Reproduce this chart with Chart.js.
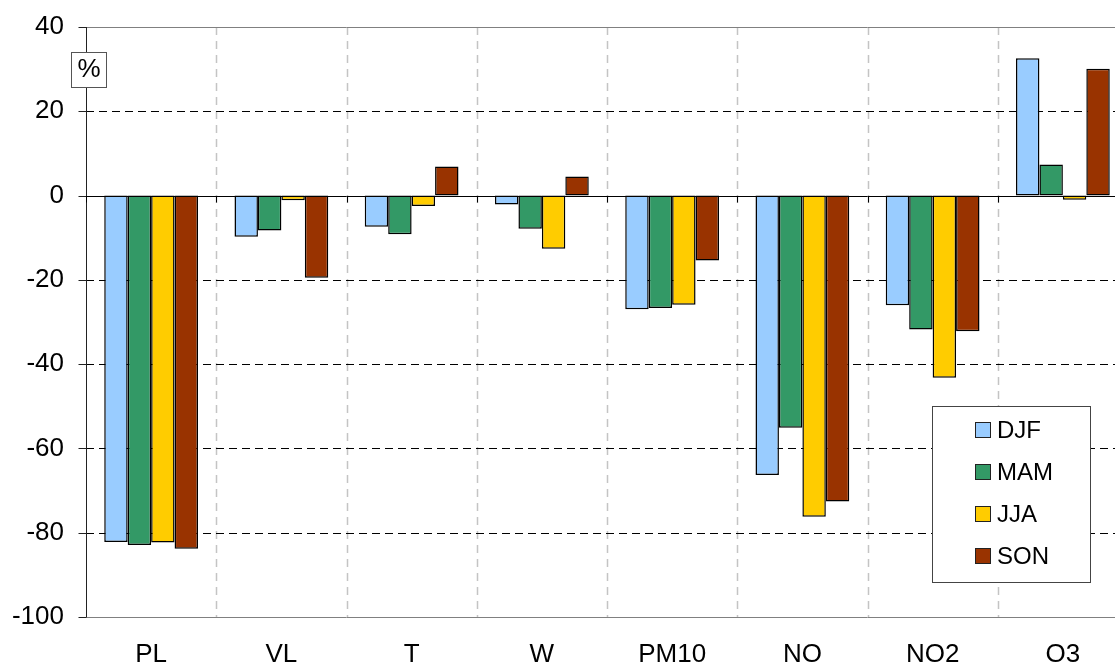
<!DOCTYPE html>
<html>
<head>
<meta charset="utf-8">
<script src="https://cdn.jsdelivr.net/npm/chart.js@4/dist/chart.umd.min.js"></script>
<style>
  html, body { margin: 0; padding: 0; background: #fff; overflow: hidden; }
  #wrap { position: relative; width: 1130px; height: 666px; }
</style>
</head>
<body>
<div id="wrap"><canvas id="c"></canvas></div>
<script>
// Seasonal change (%) per variable
const categories = ['PL', 'VL', 'T', 'W', 'PM10', 'NO', 'NO2', 'O3'];
const seasons = ['DJF', 'MAM', 'JJA', 'SON'];
const djf = [-82.2, -9.8, -7.4, -2.1, -27.0, -66.3, -26.0, 32.6];
const mam = [-82.9, -8.3, -9.2, -7.9, -26.7, -55.1, -31.8, 7.4];
const jja = [-82.3, -1.1, -2.5, -12.6, -25.9, -76.2, -43.2, -1.0];
const son = [-83.8, -19.5, 6.9, 4.5, -15.4, -72.6, -32.2, 30.1];
const yTicks = [40, 20, 0, -20, -40, -60, -80, -100];
const seasonColors = ['#99CCFF', '#339966', '#FFCC00', '#993300'];

const FONT = '"Liberation Sans", Arial, sans-serif';

const frame = {
  id: 'frame',
  beforeDatasetsDraw(chart) {
    const { ctx, chartArea: a, scales: { x, y } } = chart;
    ctx.save();
    // vertical dashed separators between categories
    ctx.strokeStyle = '#c4c4c4';
    ctx.lineWidth = 1.5;
    ctx.setLineDash([8, 6]);
    for (let i = 1; i < categories.length; i++) {
      const px = Math.round((x.getPixelForValue(i - 1) + x.getPixelForValue(i)) / 2) + 0.5;
      ctx.beginPath(); ctx.moveTo(px, a.top); ctx.lineTo(px, a.bottom); ctx.stroke();
    }
    // horizontal dashed grid
    ctx.strokeStyle = '#000';
    ctx.lineWidth = 1;
    ctx.setLineDash([8, 5]);
    yTicks.forEach(v => {
      if (v === 40 || v === 0 || v === -100) return;
      const py = Math.round(y.getPixelForValue(v)) + 0.5;
      ctx.beginPath(); ctx.moveTo(a.left, py); ctx.lineTo(a.right, py); ctx.stroke();
    });
    ctx.setLineDash([]);
    // top and bottom frame lines
    ctx.strokeStyle = '#808080';
    [40, -100].forEach(v => {
      const py = Math.round(y.getPixelForValue(v)) + 0.5;
      ctx.beginPath(); ctx.moveTo(a.left, py); ctx.lineTo(a.right, py); ctx.stroke();
    });
    // left axis with tick marks
    ctx.strokeStyle = '#222';
    const lx = Math.round(a.left) + 0.5;
    ctx.beginPath(); ctx.moveTo(lx, a.top); ctx.lineTo(lx, a.bottom); ctx.stroke();
    yTicks.forEach(v => {
      const py = Math.round(y.getPixelForValue(v)) + 0.5;
      ctx.beginPath(); ctx.moveTo(lx - 8, py); ctx.lineTo(lx, py); ctx.stroke();
    });
    ctx.restore();
  },
  afterDatasetsDraw(chart) {
    const { ctx, chartArea: a, scales: { x, y } } = chart;
    ctx.save();
    // zero line with small category ticks
    const zy = Math.round(y.getPixelForValue(0)) + 0.5;
    ctx.strokeStyle = '#000';
    ctx.lineWidth = 1;
    ctx.beginPath(); ctx.moveTo(a.left, zy); ctx.lineTo(a.right, zy); ctx.stroke();
    const step = x.getPixelForValue(1) - x.getPixelForValue(0);
    for (let i = 0; i <= categories.length; i++) {
      const px = Math.round(x.getPixelForValue(0) - step / 2 + i * step) + 0.5;
      ctx.beginPath(); ctx.moveTo(px, zy); ctx.lineTo(px, zy + 6); ctx.stroke();
    }
    ctx.restore();
  },
  afterDraw(chart) {
    const { ctx } = chart;
    ctx.save();
    // unit box
    ctx.fillStyle = '#fff';
    ctx.strokeStyle = '#555';
    ctx.lineWidth = 1;
    ctx.fillRect(71.5, 52.5, 35, 35);
    ctx.strokeRect(71.5, 52.5, 35, 35);
    ctx.fillStyle = '#000';
    ctx.font = '26px ' + FONT;
    ctx.textAlign = 'center';
    ctx.textBaseline = 'middle';
    ctx.fillText('%', 89, 70);
    // legend
    ctx.fillStyle = '#fff';
    ctx.strokeStyle = '#444';
    ctx.fillRect(932.5, 406.5, 158, 176);
    ctx.strokeRect(932.5, 406.5, 158, 176);
    ctx.font = '24px ' + FONT;
    ctx.textAlign = 'left';
    chart.data.datasets.forEach((ds, i) => {
      const cy = 430 + i * 42;
      ctx.fillStyle = ds.backgroundColor;
      ctx.fillRect(975.5, cy - 7.5, 15, 15);
      ctx.strokeStyle = '#222';
      ctx.strokeRect(975.5, cy - 7.5, 15, 15);
      ctx.fillStyle = '#000';
      ctx.fillText(ds.label, 997, cy + 1);
    });
    ctx.restore();
  }
};

const seriesValues = [djf, mam, jja, son];

new Chart(document.getElementById('c'), {
  type: 'bar',
  data: {
    labels: categories,
    datasets: seasons.map((s, i) => ({
      label: s,
      data: seriesValues[i],
      backgroundColor: seasonColors[i],
      borderColor: '#000',
      borderWidth: 1.5,
      borderSkipped: false,
      categoryPercentage: 0.72,
      barPercentage: 1.0
    }))
  },
  options: {
    responsive: true,
    maintainAspectRatio: false,
    animation: false,
    events: [],
    layout: { padding: { top: 27, right: 2, left: 0, bottom: 0 } },
    plugins: { legend: { display: false }, tooltip: { enabled: false } },
    scales: {
      x: {
        grid: { display: false, drawTicks: false },
        border: { display: false },
        ticks: { color: '#000', font: { family: FONT, size: 26 }, padding: 22, maxRotation: 0 },
        afterFit(s) { s.height = 49; s.paddingLeft = 0; s.paddingRight = 0; }
      },
      y: {
        min: -100, max: 40,
        grid: { display: false, drawTicks: false },
        border: { display: false },
        ticks: { stepSize: 20, color: '#000', font: { family: FONT, size: 26 }, padding: 22 },
        afterFit(s) { s.width = 86; s.paddingTop = 0; s.paddingBottom = 0; }
      }
    }
  },
  plugins: [frame]
});
</script>
</body>
</html>
